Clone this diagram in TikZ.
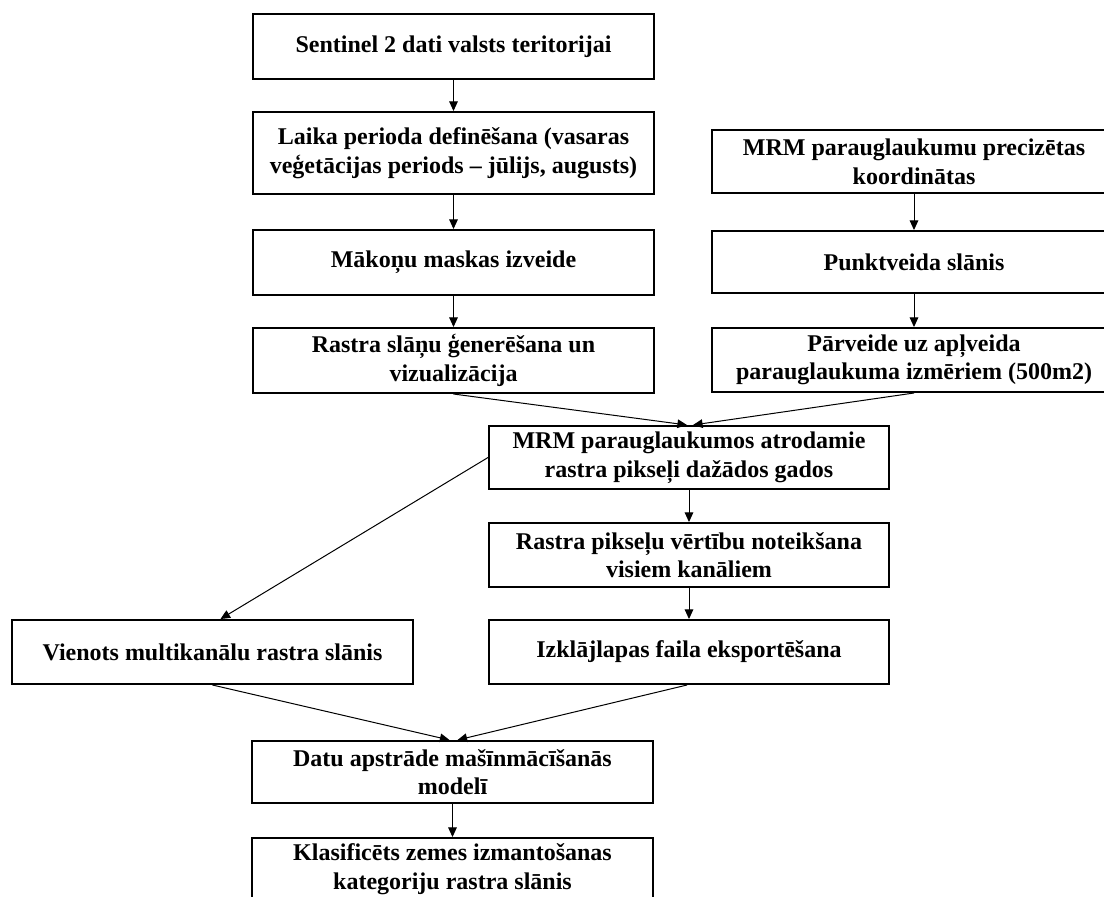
\documentclass[tikz,border=0pt]{standalone}
\usepackage{fontspec}
\setmainfont{Liberation Serif}
\usetikzlibrary{arrows.meta}
\tikzset{
  box/.style={draw, line width=1pt, fill=white, align=center, inner sep=0pt,
    minimum width=200.5pt, font=\bfseries\fontsize{12}{14.3}\selectfont},
  conn/.style={-{Triangle[length=4.8pt,width=4.3pt]}, line width=0.5pt}
}
\begin{document}
\begin{tikzpicture}[x=0.5pt,y=-0.5pt]
\useasboundingbox (0,0) rectangle (1104,896);
\clip (0,0) rectangle (1104,896);
\fill[white] (0,0) rectangle (1104,896);
% left column
\node[box, minimum height=32.5pt] (A) at (453.5,46.5) {Sentinel 2 dati valsts teritorijai};
\node[box, minimum height=41pt] (B) at (453.5,153) {Laika perioda definēšana (vasaras\\veģetācijas periods – jūlijs, augusts)};
\node[box, minimum height=32.5pt] (C) at (453.5,262.5) {Mākoņu maskas izveide};
\node[box, minimum height=32.5pt] (D) at (453.5,360.5) {Rastra slāņu ģenerēšana un\\vizualizācija};
% right column
\node[box, minimum height=31.5pt, minimum width=202pt] (R1) at (914,161.5) {MRM parauglaukumu precizētas\\koordinātas};
\node[box, minimum height=31pt, minimum width=202pt] (R2) at (914,262) {Punktveida slānis};
\node[box, minimum height=32pt, minimum width=202pt] (R3) at (914,360) {Pārveide uz apļveida\\parauglaukuma izmēriem (500m2)};
% middle
\node[box, minimum height=31.5pt, minimum width=200pt] (E) at (689,457.5) {MRM parauglaukumos atrodamie\\rastra pikseļi dažādos gados};
\node[box, minimum height=32pt, minimum width=200pt] (F) at (689,555) {Rastra pikseļu vērtību noteikšana\\visiem kanāliem};
\node[box, minimum height=32pt, minimum width=200pt] (G) at (689,652) {Izklājlapas faila eksportēšana};
\node[box, minimum height=32pt] (V) at (212.5,652) {Vienots multikanālu rastra slānis};
% bottom
\node[box, minimum height=31pt] (H) at (452.5,772) {Datu apstrāde mašīnmācīšanās\\modelī};
\node[box, minimum height=31pt] (K) at (452.5,869) {Klasificēts zemes izmantošanas\\kategoriju rastra slānis};
% connectors
\draw[conn] (A) -- (B);
\draw[conn] (B) -- (C);
\draw[conn] (C) -- (D);
\draw[conn] (R1) -- (R2);
\draw[conn] (R2) -- (R3);
\draw[conn] (D.south) -- ([xshift=-1pt]E.north);
\draw[conn] (R3.south) -- ([xshift=2pt]E.north);
\draw[conn] (E.west) -- ([xshift=4pt]V.north);
\draw[conn] (E) -- (F);
\draw[conn] (F) -- (G);
\draw[conn] (V.south) -- ([xshift=-1.5pt]H.north);
\draw[conn] ([xshift=-1pt]G.south) -- ([xshift=2.5pt]H.north);
\draw[conn] (H) -- (K);
\end{tikzpicture}
\end{document}
